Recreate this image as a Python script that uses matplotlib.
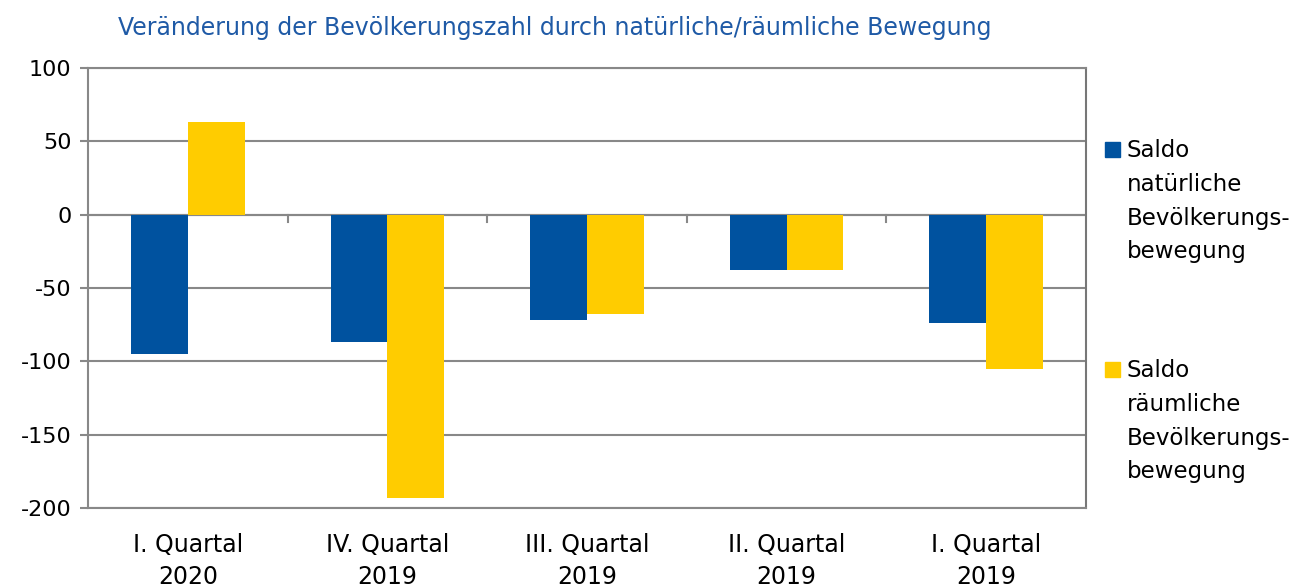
import numpy as np
import matplotlib
matplotlib.use('Agg')
import matplotlib.pyplot as plt
from matplotlib.patches import Rectangle

# Daten
quartale = ['I. Quartal\n2020', 'IV. Quartal\n2019', 'III. Quartal\n2019', 'II. Quartal\n2019', 'I. Quartal\n2019']
saldo_natuerlich = [-95, -87, -72, -38, -74]
saldo_raeumlich = [63, -193, -68, -38, -105]
legende = ['Saldo\nnatürliche\nBevölkerungs-\nbewegung', 'Saldo\nräumliche\nBevölkerungs-\nbewegung']
titel = 'Veränderung der Bevölkerungszahl durch natürliche/räumliche Bewegung'

BLAU = '#00529f'
GELB = '#ffcc00'
GRAU = '#888888'

plt.rcParams['font.family'] = ['DejaVu Sans']
plt.rcParams['axes.unicode_minus'] = False

fig = plt.figure(figsize=(12.95, 5.88), dpi=100)
ax = fig.add_axes([88/1295, 1-508/588, (1086-88)/1295, (508-68)/588])

x = np.arange(len(quartale))
w = 0.285
ax.bar(x - w/2, saldo_natuerlich, w, color=BLAU, zorder=3)
ax.bar(x + w/2, saldo_raeumlich, w, color=GELB, zorder=3)

ax.set_xlim(-0.5, len(quartale) - 0.5)
ax.set_ylim(-200, 100)
ax.set_yticks(np.arange(-200, 101, 50))
ax.yaxis.grid(True, color=GRAU, lw=1.5, zorder=0)
ax.tick_params(axis='y', labelsize=16, length=6, width=1.5, color=GRAU, pad=6)

# Kategorie-Trennstriche an der Nulllinie
for b in np.arange(0.5, len(quartale) - 1, 1):
    ax.plot([b, b], [0, -5], color=GRAU, lw=1.5, zorder=2)
ax.axhline(0, color=GRAU, lw=1.5, zorder=2)

ax.set_xticks(x)
ax.set_xticklabels(quartale, fontsize=17, linespacing=1.4)
ax.tick_params(axis='x', length=0, pad=18)

for s in ax.spines.values():
    s.set_color(GRAU)
    s.set_linewidth(1.5)
ax.spines['right'].set_color('#777777')

fig.text(555/1295, 1-28/588, titel, color='#1f5aa6', fontsize=17, ha='center', va='center')

# Legende
for i, (lab, col) in enumerate([(legende[0], BLAU), (legende[1], GELB)]):
    ytop = 142 + i*220
    fig.patches.append(Rectangle((1105/1295, 1-(ytop+15)/588), 15/1295, 15/588,
                                 transform=fig.transFigure, color=col))
    fig.text(1127/1295, 1-(ytop-3)/588, lab, fontsize=16.5, va='top', ha='left', linespacing=1.6)

fig.savefig('out.png', dpi=100)
